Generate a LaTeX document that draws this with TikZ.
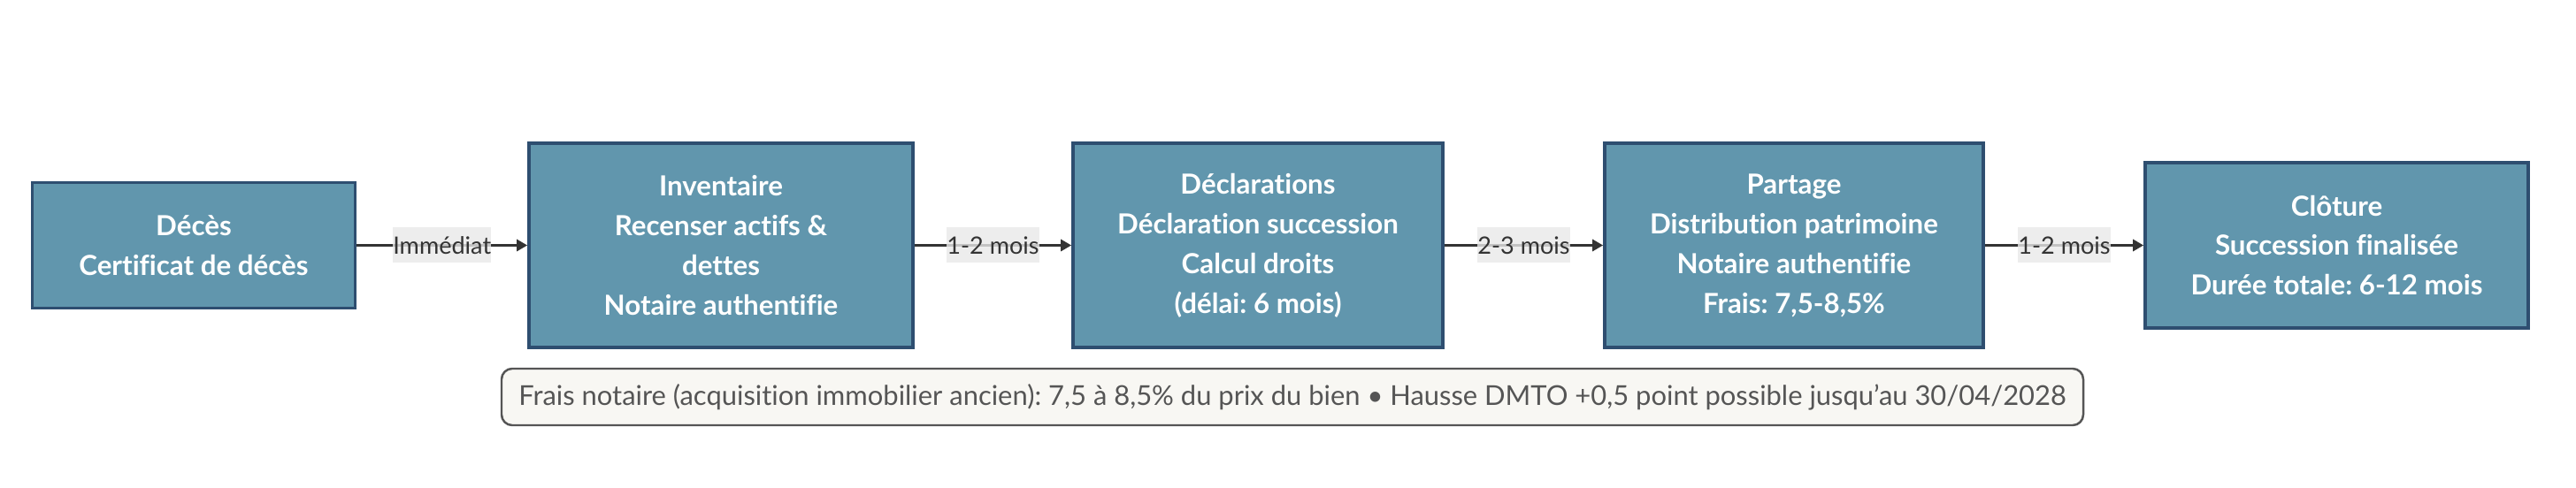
\documentclass[tikz,border=0pt]{standalone}
\usepackage{fontspec}
\setmainfont{Lato}[Ligatures={TeX,NoCommon}]
\frenchspacing
\usetikzlibrary{arrows.meta, positioning}
\definecolor{stepfill}{RGB}{97,150,173}
\definecolor{stepline}{RGB}{46,78,112}
\definecolor{labelbg}{RGB}{232,232,232}
\definecolor{notefill}{RGB}{248,247,243}
\definecolor{notegray}{RGB}{85,85,85}
\definecolor{darkline}{RGB}{51,51,51}

\begin{document}
\begin{tikzpicture}[
    stepbox/.style={rectangle, draw=stepline, line width=1.1pt, fill=stepfill, text=white,
        font=\fontsize{8.9}{12.8}\selectfont\bfseries, align=center, minimum height=2.31cm},
    flow/.style={-{Triangle[length=3.4pt, width=3.8pt]}, line width=0.6pt, darkline},
    lbl/.style={fill=labelbg, fill opacity=0.8, text opacity=1, text=darkline, inner sep=0pt,
        minimum height=0.40cm, font=\fontsize{7.7}{9}\selectfont},
    note/.style={rectangle, rounded corners=3.4pt, draw=notegray, line width=0.7pt, fill=notefill,
        text=notegray, font=\fontsize{8.8}{10}\selectfont, minimum width=17.88cm, minimum height=0.64cm}]

    \useasboundingbox (0,0) rectangle (29.12,-5.52);

    % Steps
    \node[stepbox, minimum width=3.65cm, minimum height=1.42cm] (deces) at (2.19,-2.775) {Décès\\Certificat de décès};
    \node[stepbox, minimum width=4.34cm] (inventaire) at (8.15,-2.775) {Inventaire\\Recenser actifs \&\\dettes\\Notaire authentifie};
    \node[stepbox, minimum width=4.18cm] (declarations) at (14.22,-2.775) {Déclarations\\Déclaration succession\\Calcul droits\\(délai: 6 mois)};
    \node[stepbox, minimum width=4.28cm] (partage) at (20.28,-2.775) {Partage\\Distribution patrimoine\\Notaire authentifie\\Frais: 7,5-8,5\%};
    \node[stepbox, minimum width=4.33cm, minimum height=1.87cm] (cloture) at (26.415,-2.775) {Clôture\\Succession finalisée\\Durée totale: 6-12 mois};

    % Transitions
    \draw[flow] (deces) -- node[lbl] {Immédiat} (inventaire);
    \draw[flow] (inventaire) -- node[lbl] {1-2 mois} (declarations);
    \draw[flow] (declarations) -- node[lbl] {2-3 mois} (partage);
    \draw[flow] (partage) -- node[lbl] {1-2 mois} (cloture);

    % Note
    \node[note] (frais) at (14.61,-4.49) {Frais notaire (acquisition immobilier ancien): 7,5 à 8,5\% du prix du bien • Hausse DMTO +0,5 point possible jusqu'au 30/04/2028};

\end{tikzpicture}
\end{document}
